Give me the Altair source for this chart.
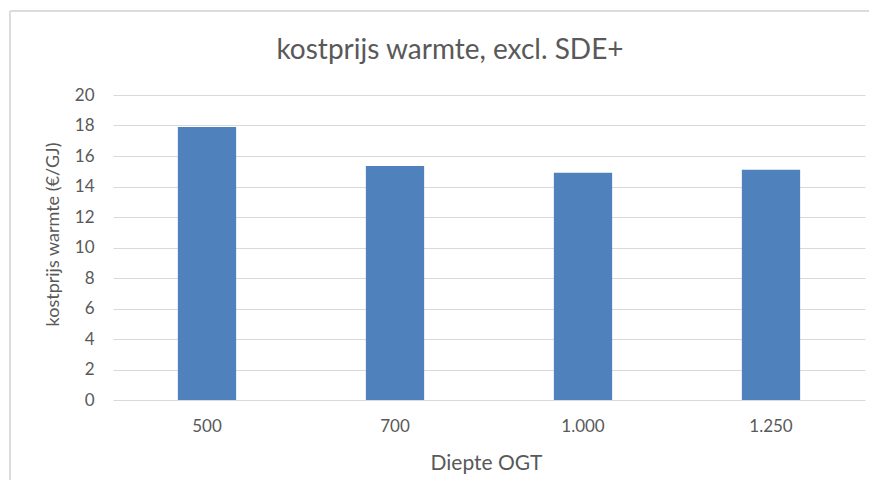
import altair as alt
import pandas as pd

categories = ["500", "700", "1.000", "1.250"]
values = [17.9, 15.35, 14.9, 15.1]
title_text = "kostprijs warmte, excl. SDE+"

df = pd.DataFrame({"diepte": categories, "kostprijs": values})

FONT = "Lato"
GRAY = "#595959"

bars = alt.Chart(df).mark_bar(color="#4F81BD").encode(
    x=alt.X("diepte:N", sort=categories, title="Diepte OGT",
            scale=alt.Scale(paddingInner=0.69, paddingOuter=0.345),
            axis=alt.Axis(labelAngle=0, labelFontSize=17, labelColor=GRAY, labelFont=FONT,
                          titleFont=FONT, titleFontSize=21, titleColor=GRAY, titleFontWeight="normal",
                          titleX=373, domain=False, ticks=False, labelPadding=18, titlePadding=18)),
    y=alt.Y("kostprijs:Q", title="kostprijs warmte (€/GJ)",
            scale=alt.Scale(domain=[0, 20]),
            axis=alt.Axis(values=list(range(0, 21, 2)), labelFontSize=17, labelColor=GRAY, labelFont=FONT,
                          titleFont=FONT, titleFontSize=18, titleColor=GRAY, titleFontWeight="normal",
                          titleY=139, domain=False, ticks=False, labelPadding=19, titlePadding=12,
                          gridColor="#D9D9D9", gridWidth=1)),
)

title_df = pd.DataFrame({"t": [title_text]})
title = alt.Chart(title_df).mark_text(font=FONT, fontSize=28, color=GRAY, align="center",
                                      baseline="alphabetic").encode(
    text="t:N", x=alt.value(337), y=alt.value(-36))

border_top = alt.Chart(df).mark_rule(color="#D9D9D9", strokeWidth=1).encode(
    x=alt.value(-103), x2=alt.value(760), y=alt.value(-84))
border_left = alt.Chart(df).mark_rule(color="#D9D9D9", strokeWidth=1).encode(
    x=alt.value(-103), y=alt.value(-84), y2=alt.value(400))

chart = alt.layer(border_top, border_left, bars, title).properties(
    width=752, height=305,
    autosize=alt.AutoSizeParams(type="none"),
    padding={"left": 105, "top": 87, "right": 4, "bottom": 80},
).configure_view(stroke=None)

chart.save("out.html", embed_options={"renderer": "svg", "actions": False})
